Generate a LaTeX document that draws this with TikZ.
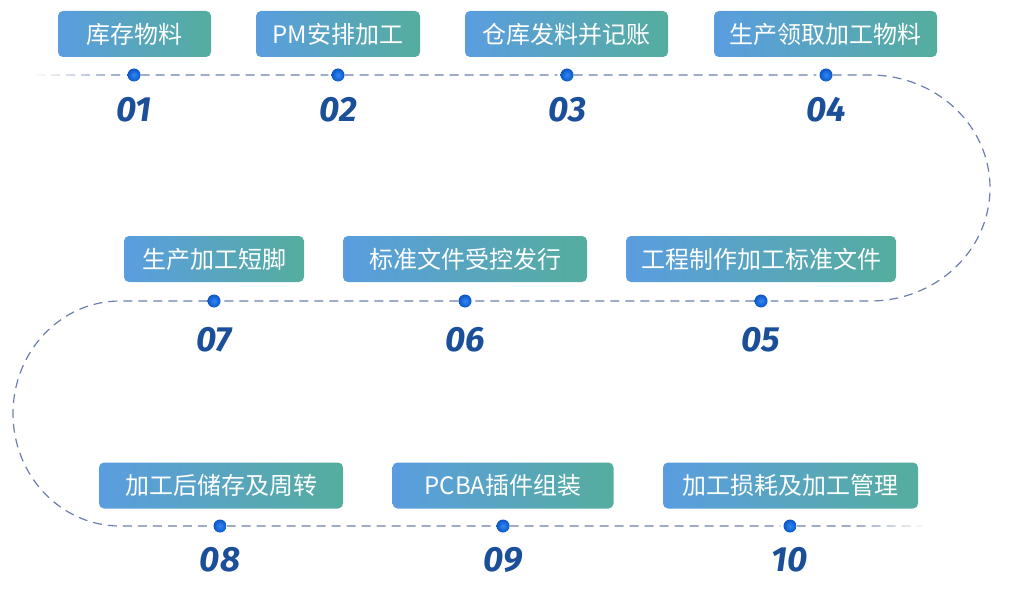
\documentclass[tikz,border=0pt]{standalone}
\usepackage{fontspec}
\newfontfamily\cjk{Noto Sans CJK SC}
\newfontfamily\numfont{Fira Sans}
\usetikzlibrary{fadings}
\definecolor{boxL}{HTML}{5A9DE0}
\definecolor{boxR}{HTML}{55AD9E}
\definecolor{linec}{HTML}{6A7FAE}
\definecolor{numc}{HTML}{1B4F9A}
\definecolor{dotin}{HTML}{3288F2}
\definecolor{dotout}{HTML}{0B55C8}
\tikzfading[name=fadewest, left color=transparent!0, right color=transparent!100]
\tikzfading[name=fadeeast, left color=transparent!100, right color=transparent!0]
\tikzset{
  stepbox/.style={rounded corners=5pt, left color=boxL, right color=boxR, text=white,
    minimum height=46pt, inner sep=0pt, font=\cjk\fontsize{24}{28}\selectfont},
  dotnode/.style={circle, minimum size=13pt, inner sep=0pt, shade, inner color=dotin, outer color=dotout},
  numlabel/.style={inner sep=0pt, text=numc, font=\numfont\bfseries\itshape\fontsize{35}{40}\selectfont},
  flow/.style={draw=linec, line width=1.2pt, dash pattern=on 9pt off 6pt}
}
\begin{document}
\begin{tikzpicture}[x=1pt,y=1pt]
\useasboundingbox (0,0) rectangle (1011,-596);
% boxes
\node[stepbox, minimum width=153pt] (b1) at (134.5,-34) {库存物料};
\node[stepbox, minimum width=164pt] (b2) at (338,-34) {PM安排加工};
\node[stepbox, minimum width=203pt] (b3) at (566.5,-34) {仓库发料并记账};
\node[stepbox, minimum width=223pt] (b4) at (825.5,-34) {生产领取加工物料};
\node[stepbox, minimum width=270pt] (b5) at (761,-259) {工程制作加工标准文件};
\node[stepbox, minimum width=244pt] (b6) at (465,-259) {标准文件受控发行};
\node[stepbox, minimum width=180pt] (b7) at (214,-259) {生产加工短脚};
\node[stepbox, minimum width=244pt] (b8) at (221,-485.5) {加工后储存及周转};
\node[stepbox, minimum width=221pt] (b9) at (503,-485.5) {PCBA插件组装};
\node[stepbox, minimum width=255pt] (b10) at (790.5,-485.5) {加工损耗及加工管理};
% dots
\node[dotnode] (d1) at (134,-75) {};
\node[dotnode] (d2) at (338,-75) {};
\node[dotnode] (d3) at (567,-75) {};
\node[dotnode] (d4) at (826,-75) {};
\node[dotnode] (d5) at (761,-301) {};
\node[dotnode] (d6) at (465,-301) {};
\node[dotnode] (d7) at (214,-301) {};
\node[dotnode] (d8) at (220,-526) {};
\node[dotnode] (d9) at (503,-526) {};
\node[dotnode] (d10) at (790,-526) {};
% path coordinates
\coordinate (s) at (36,-75);
\coordinate (r1) at (870,-75);
\coordinate (l1) at (120,-301);
\coordinate (e) at (922,-526);
\path[flow, shorten <=0pt] (s) -- ([xshift=-3pt]d1.west) (d1.east) -- ([xshift=-3pt]d2.west)
  (d2.east) -- ([xshift=-3pt]d3.west) (d3.east) -- ([xshift=-3pt]d4.west) (d4.east) -- (r1)
  arc[start angle=90, end angle=-90, x radius=120, y radius=113]
  -- ([xshift=3pt]d5.east) (d5.west) -- ([xshift=3pt]d6.east) (d6.west) -- ([xshift=3pt]d7.east)
  (d7.west) -- (l1)
  arc[start angle=90, end angle=270, x radius=107, y radius=112.5]
  -- ([xshift=-3pt]d8.west) (d8.east) -- ([xshift=-3pt]d9.west) (d9.east) -- ([xshift=-3pt]d10.west)
  (d10.east) -- (e);
% fading ends
\fill[white, path fading=fadewest] (30,-82) rectangle (120,-68);
\fill[white, path fading=fadeeast] (855,-533) rectangle (930,-519);
% numbers
\node[numlabel] (n1) at (134,-110) {01};
\node[numlabel] (n2) at (338,-110) {02};
\node[numlabel] (n3) at (567,-110) {03};
\node[numlabel] (n4) at (826,-110) {04};
\node[numlabel] (n5) at (761,-340) {05};
\node[numlabel] (n6) at (465,-340) {06};
\node[numlabel] (n7) at (214,-340) {07};
\node[numlabel] (n8) at (220,-560) {08};
\node[numlabel] (n9) at (503,-560) {09};
\node[numlabel] (n10) at (790,-560) {10};
\end{tikzpicture}
\end{document}
